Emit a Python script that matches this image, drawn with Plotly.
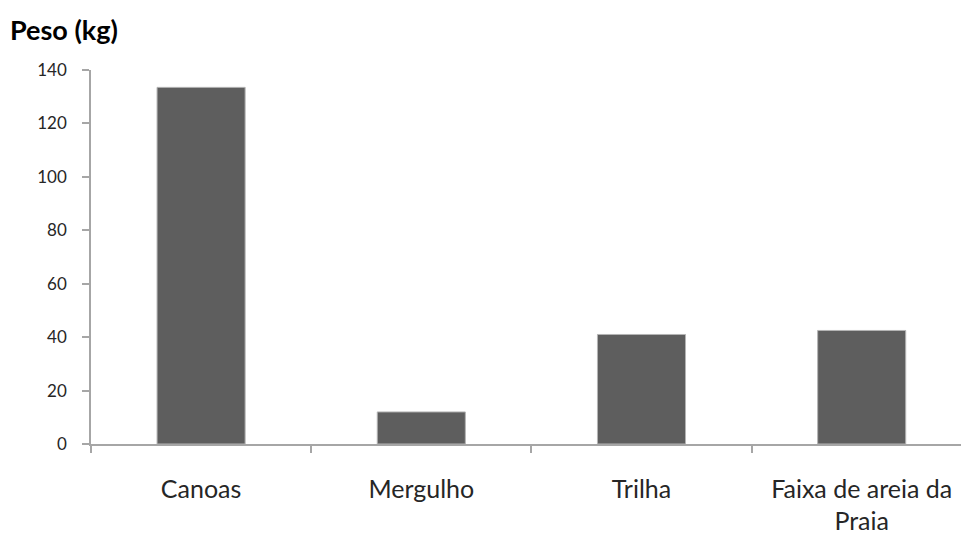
import plotly.graph_objects as go

# Weight collected per activity
categories = ["Canoas", "Mergulho", "Trilha", "Faixa de areia da<br>Praia"]
peso_kg = [133.5, 12, 41, 42.5]
y_ticks = [0, 20, 40, 60, 80, 100, 120, 140]

FONT = "Lato, 'Open Sans', sans-serif"
AXIS_GRAY = "#a6a6a6"
TEXT = "#262626"

fig = go.Figure(
    go.Bar(
        x=categories,
        y=peso_kg,
        width=0.4,
        marker=dict(color="#5e5e5e", line=dict(color="#b4b4b4", width=1)),
        hoverinfo="x+y",
    )
)

fig.update_layout(
    width=961,
    height=537,
    margin=dict(l=91, r=0, t=70, b=93),
    paper_bgcolor="white",
    plot_bgcolor="white",
    showlegend=False,
    font=dict(family=FONT, size=18, color=TEXT),
    title=dict(
        text="<b>Peso (kg)</b>",
        xref="container",
        yref="container",
        x=10 / 961,
        xanchor="left",
        y=1 - 31 / 537,
        yanchor="middle",
        font=dict(family=FONT, size=27, color="#000000"),
    ),
)

fig.update_xaxes(
    type="category",
    range=[-0.5, 3.451],
    automargin=False,
    showgrid=False,
    showline=True,
    linecolor=AXIS_GRAY,
    linewidth=1.5,
    ticks="outside",
    tickson="boundaries",
    ticklen=7,
    tickcolor=AXIS_GRAY,
    tickwidth=1.5,
    tickfont=dict(family=FONT, size=25, color=TEXT),
    ticklabelstandoff=22,
)

fig.update_yaxes(
    range=[0, 140],
    automargin=False,
    tickvals=y_ticks,
    ticktext=[str(v) for v in y_ticks],
    showgrid=False,
    zeroline=False,
    showline=True,
    linecolor=AXIS_GRAY,
    linewidth=1.5,
    ticks="outside",
    ticklen=7,
    tickcolor=AXIS_GRAY,
    tickwidth=1.5,
    tickfont=dict(family=FONT, size=17, color=TEXT),
    ticklabelstandoff=12,
)

fig.write_html("out.html")
